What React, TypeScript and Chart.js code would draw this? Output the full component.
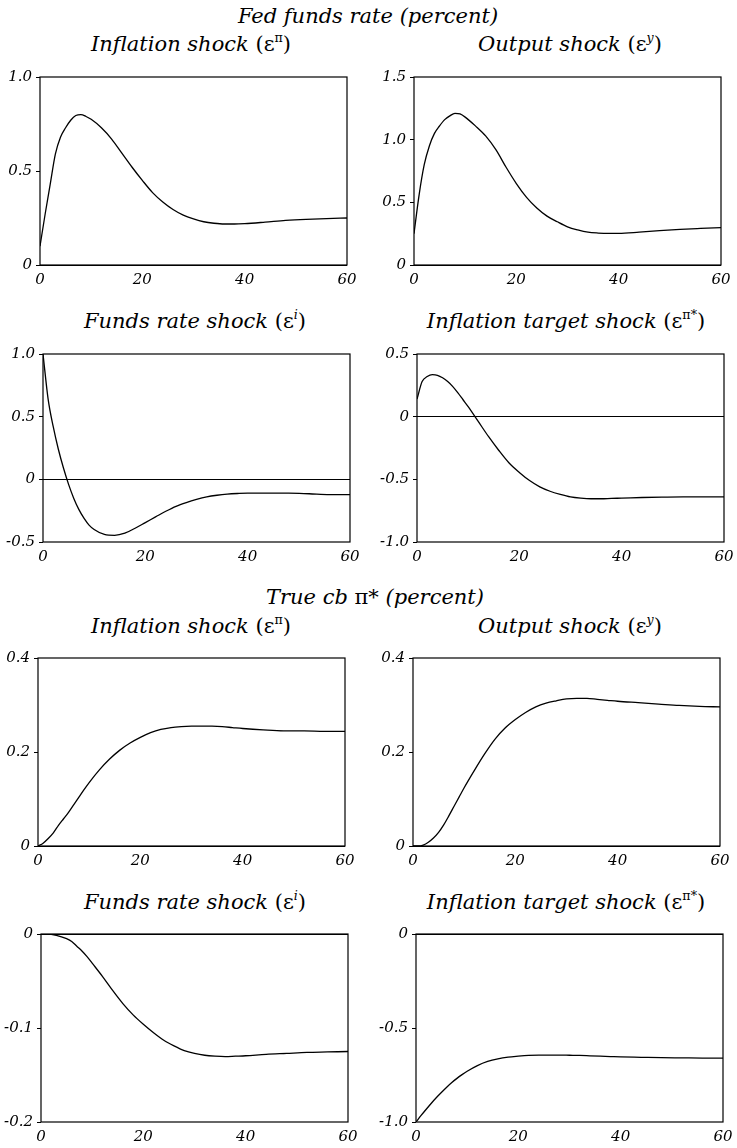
import React, { useEffect, useRef } from "react";
import { Chart, registerables } from "chart.js";
Chart.register(...registerables);

// ---------- data ----------
const periods = [0, 1, 2, 3, 4, 5, 6, 7, 8, 9, 10, 12, 14, 16, 18, 20, 22, 24, 26, 28, 30, 32, 34, 36, 38, 40, 44, 48, 52, 56, 60];
const xTickValues = [0, 20, 40, 60];

// Fed funds rate (percent)
const fedInflationShock = [0.10, 0.27, 0.43, 0.59, 0.68, 0.73, 0.77, 0.795, 0.80, 0.79, 0.775, 0.73, 0.67, 0.595, 0.52, 0.45, 0.385, 0.335, 0.295, 0.265, 0.245, 0.23, 0.222, 0.218, 0.218, 0.22, 0.228, 0.237, 0.243, 0.247, 0.25];
const fedOutputShock = [0.25, 0.56, 0.80, 0.95, 1.05, 1.11, 1.16, 1.19, 1.21, 1.205, 1.18, 1.11, 1.03, 0.92, 0.78, 0.65, 0.54, 0.455, 0.39, 0.345, 0.305, 0.28, 0.262, 0.255, 0.252, 0.252, 0.262, 0.275, 0.285, 0.292, 0.298];
const fedFundsRateShock = [1.0, 0.64, 0.42, 0.24, 0.09, -0.04, -0.15, -0.24, -0.31, -0.365, -0.40, -0.44, -0.447, -0.43, -0.39, -0.345, -0.30, -0.255, -0.215, -0.185, -0.16, -0.14, -0.127, -0.118, -0.113, -0.11, -0.11, -0.11, -0.115, -0.122, -0.122];
const fedTargetShock = [0.14, 0.28, 0.32, 0.335, 0.33, 0.31, 0.28, 0.24, 0.19, 0.135, 0.08, -0.04, -0.16, -0.27, -0.37, -0.445, -0.51, -0.56, -0.595, -0.62, -0.64, -0.65, -0.655, -0.655, -0.652, -0.65, -0.645, -0.642, -0.64, -0.64, -0.64];

// True cb pi* (percent)
const piInflationShock = [0, 0.006, 0.016, 0.028, 0.044, 0.058, 0.072, 0.088, 0.104, 0.12, 0.135, 0.162, 0.185, 0.204, 0.219, 0.231, 0.241, 0.248, 0.252, 0.254, 0.255, 0.255, 0.255, 0.254, 0.252, 0.25, 0.247, 0.245, 0.245, 0.244, 0.244];
const piOutputShock = [0, 0, 0.002, 0.008, 0.017, 0.029, 0.045, 0.064, 0.084, 0.104, 0.124, 0.161, 0.196, 0.227, 0.251, 0.269, 0.284, 0.296, 0.304, 0.309, 0.313, 0.314, 0.314, 0.312, 0.31, 0.308, 0.305, 0.302, 0.299, 0.297, 0.296];
const piFundsRateShock = [0, 0, -0.0005, -0.0015, -0.003, -0.005, -0.008, -0.013, -0.018, -0.024, -0.031, -0.045, -0.06, -0.074, -0.086, -0.096, -0.105, -0.113, -0.119, -0.124, -0.127, -0.129, -0.13, -0.1305, -0.13, -0.1295, -0.128, -0.127, -0.126, -0.1255, -0.125];
const piTargetShock = [-1.0, -0.965, -0.932, -0.9, -0.87, -0.842, -0.815, -0.79, -0.768, -0.748, -0.73, -0.7, -0.678, -0.664, -0.655, -0.65, -0.646, -0.644, -0.644, -0.644, -0.645, -0.646, -0.648, -0.65, -0.652, -0.654, -0.656, -0.658, -0.659, -0.66, -0.66];

// y tick labels per panel
const yTicksFedInflation = [0, 0.5, 1.0];
const yTicksFedOutput = [0, 0.5, 1.0, 1.5];
const yTicksFedFunds = [-0.5, 0, 0.5, 1.0];
const yTicksFedTarget = [-1.0, -0.5, 0, 0.5];
const yTicksPiInflation = [0, 0.2, 0.4];
const yTicksPiOutput = [0, 0.2, 0.4];
const yTicksPiFunds = [-0.2, -0.1, 0];
const yTicksPiTarget = [-1.0, -0.5, 0];

// ---------- layout ----------
const PLOT_W = 307;
const PLOT_H = 189;
const YW = 44;
const PT = 12;
const PR = 16;
const XH = 28;
const CW = YW + PLOT_W + PR;
const CH = PT + PLOT_H + XH;

const serif = "'DejaVu Serif', serif";

const framePlugin = {
  id: "frame",
  afterDatasetsDraw(chart: any) {
    const { ctx, chartArea } = chart;
    const { left, top, right, bottom } = chartArea;
    ctx.save();
    ctx.strokeStyle = "#000";
    ctx.lineWidth = 1.2;
    ctx.strokeRect(left, top, right - left, bottom - top);
    ctx.restore();
  },
};

function fmt(v: number) {
  if (Math.abs(v) < 1e-9) return "0";
  return v.toFixed(1);
}

function Panel({ values, yTicks, left, top }: { values: number[]; yTicks: number[]; left: number; top: number }) {
  const ref = useRef<HTMLCanvasElement>(null);
  useEffect(() => {
    const tickFont = { family: serif, style: "italic" as const, size: 15 };
    const chart = new Chart(ref.current as HTMLCanvasElement, {
      type: "line",
      data: {
        datasets: [
          {
            data: periods.map((p, i) => ({ x: p, y: values[i] })),
            borderColor: "#000",
            borderWidth: 1.3,
            pointRadius: 0,
            fill: false,
            cubicInterpolationMode: "monotone",
          },
        ],
      },
      options: {
        responsive: false,
        animation: false,
        devicePixelRatio: 1,
        layout: { padding: { top: PT, right: PR, left: 0, bottom: 0 } },
        plugins: { legend: { display: false }, tooltip: { enabled: false }, title: { display: false } },
        scales: {
          x: {
            type: "linear",
            min: 0,
            max: 60,
            afterBuildTicks: (s: any) => {
              s.ticks = xTickValues.map((v) => ({ value: v }));
            },
            afterFit: (s: any) => {
              s.height = XH;
            },
            grid: { display: false, drawTicks: false },
            border: { display: false },
            ticks: { padding: 6, color: "#000", font: tickFont, maxRotation: 0, autoSkip: false, callback: (v: any) => String(v) },
          },
          y: {
            type: "linear",
            min: yTicks[0],
            max: yTicks[yTicks.length - 1],
            afterBuildTicks: (s: any) => {
              s.ticks = yTicks.map((v) => ({ value: v }));
            },
            afterFit: (s: any) => {
              s.width = YW;
            },
            grid: {
              drawOnChartArea: true,
              color: (ctx: any) => (ctx.tick && Math.abs(ctx.tick.value) < 1e-9 ? "#000" : "rgba(0,0,0,0)"),
              lineWidth: 1,
              drawTicks: true,
              tickLength: 4,
              tickColor: "#000",
            },
            border: { display: false },
            ticks: { padding: 4, color: "#000", font: tickFont, autoSkip: false, callback: (v: any) => fmt(Number(v)) },
          },
        },
      } as any,
      plugins: [framePlugin],
    });
    return () => chart.destroy();
  }, []);
  return (
    <canvas
      ref={ref}
      width={CW}
      height={CH}
      style={{ position: "absolute", left: left - YW, top: top - PT, width: CW, height: CH }}
    />
  );
}

function Title({ cx, cy, children }: { cx: number; cy: number; children: any }) {
  return (
    <div
      style={{
        position: "absolute",
        left: cx - 250,
        width: 500,
        top: cy - 13,
        height: 26,
        lineHeight: "26px",
        textAlign: "center",
        whiteSpace: "nowrap",
        fontFamily: serif,
        fontStyle: "italic",
        fontSize: 21,
        color: "#000",
      }}
    >
      {children}
    </div>
  );
}

const supStyle: any = { fontSize: "0.6em", verticalAlign: "0.75em", lineHeight: 0 };

function Eps({ sup, italic }: { sup: string; italic?: boolean }) {
  return (
    <span style={{ fontStyle: "normal" }}>
      (ε<span style={{ ...supStyle, fontStyle: italic ? "italic" : "normal" }}>{sup}</span>)
    </span>
  );
}

const sectionTitles = ["Fed funds rate (percent)", "True cb"];

export default function App() {
  return (
    <div style={{ position: "absolute", left: 0, top: 0, width: 737, height: 1148, background: "#fff", overflow: "hidden" }}>
      <Title cx={368} cy={16}>{sectionTitles[0]}</Title>
      <Title cx={191} cy={44}>Inflation shock <Eps sup="π" /></Title>
      <Title cx={570} cy={44}>Output shock <Eps sup="y" italic /></Title>
      <Panel values={fedInflationShock} yTicks={yTicksFedInflation} left={40} top={76} />
      <Panel values={fedOutputShock} yTicks={yTicksFedOutput} left={414} top={76} />

      <Title cx={195} cy={321}>Funds rate shock <Eps sup="i" italic /></Title>
      <Title cx={566} cy={321}>Inflation target shock <Eps sup="π*" /></Title>
      <Panel values={fedFundsRateShock} yTicks={yTicksFedFunds} left={43} top={353} />
      <Panel values={fedTargetShock} yTicks={yTicksFedTarget} left={417} top={353} />

      <Title cx={375} cy={597}>
        {sectionTitles[1]} <span style={{ fontStyle: "normal" }}>π*</span> (percent)
      </Title>
      <Title cx={191} cy={626}>Inflation shock <Eps sup="π" /></Title>
      <Title cx={570} cy={626}>Output shock <Eps sup="y" italic /></Title>
      <Panel values={piInflationShock} yTicks={yTicksPiInflation} left={38} top={657} />
      <Panel values={piOutputShock} yTicks={yTicksPiOutput} left={413} top={657} />

      <Title cx={195} cy={902}>Funds rate shock <Eps sup="i" italic /></Title>
      <Title cx={566} cy={902}>Inflation target shock <Eps sup="π*" /></Title>
      <Panel values={piFundsRateShock} yTicks={yTicksPiFunds} left={41} top={933} />
      <Panel values={piTargetShock} yTicks={yTicksPiTarget} left={416} top={933} />
    </div>
  );
}
